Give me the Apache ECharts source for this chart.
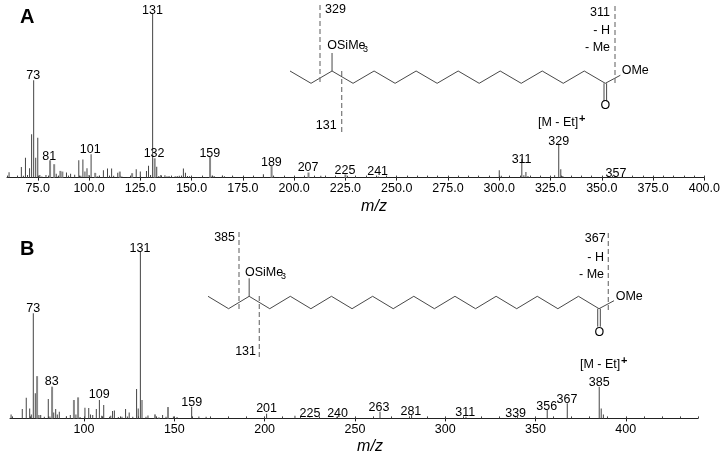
<!DOCTYPE html>
<html>
<head>
    <meta charset="utf-8">
    <title>Mass spectra A and B</title>
    <script src="https://cdn.jsdelivr.net/npm/echarts@6/dist/echarts.min.js"></script>
    <style>html,body{margin:0;padding:0;background:#fff}</style>
</head>
<body>
    <div id="main" style="width:723px;height:458px;"></div>
    <script type="text/javascript">
    // panel A, [m/z, relative intensity]
    var peaksA = [[61,3.3],[67,6.5],[68,1.2],[69,12.2],[70,1.6],[71,5.7],[72,26.5],[73,59.6],[74,12.2],[75,24.3],[76,1.6],[77,0.6],[79,1.6],
        [84,2.4],[85,0.8],[89,3.1],[91,2.4],[93,1.8],[95,10.6],[96,1.2],[97,11],[98,3.7],[99,5.7],[100,1.6],[101,14.3],[104,0.8],[105,1.2],
        [107,4.5],[109,5.5],[110,1],[111,5.5],[112,1.2],[114,2.9],[116,0.6],[119,0.4],[123,5.1],[125,3.7],[128,4.1],[129,7.3],[130,1.6],
        [131,100],[133,6.7],[134,1],[135,1.6],[137,1.4],[138,0.8],[139,1],[141,0.4],[142,0.8],[143,1],[144,1.2],[146,5.5],[147,2.9],[148,1],
        [149,0.8],[150,0.4],[153,0.4],[155,0.4],[157,0.4],[160,1.2],[161,1],[165,1.2],[166,0.8],[170,0.8],[185,2],[190,0.6],[193,0.4],[195,0.4],
        [213,1.2],[226,1.2],[241,0.6],[300,4.5],[301,1.2],[311,11.6],[312,1.4],[313,3.5],[314,1],[327,1.4],[329,20.8],[330,5.1],[331,1],[357,0.6]];
    var widePeaksA = [[81,10.6],[83,8.2],[86,4.1],[87,3.7],[103,2.9],[115,3.7],[121,2.7],[132,11.8],[159,12.7],[189,7.1],[207,3.1],[225,2]];
    var labelsA = [[72.8,62.5,'73'],[130.9,102.4,'131'],[80.6,13.1,'81'],[100.6,17.2,'101'],[131.7,14.6,'132'],[158.9,14.6,'159'],[188.9,9.3,'189'],
        [206.8,6,'207'],[224.8,4.4,'225'],[240.7,3.4,'241'],[310.9,11.3,'311'],[329,22.3,'329'],[356.9,2.6,'357']];
    var ticksA = [75,100,125,150,175,200,225,250,275,300,325,350,375,400];
    var minorTicksA = [60,65,70,75,80,85,90,95,100,105,110,115,120,125,130,135,140,145,150,155,160,165,170,175,180,185,190,195,200,205,210,215,220,225,
        230,235,240,245,250,255,260,265,270,275,280,285,290,295,300,305,310,315,320,325,330,335,340,345,350,355,360,365,370,375,380,385,390,395,400];

    // panel B, same layout
    var peaksB = [[59.6,2.4],[65.8,5.6],[68,12.4],[69.9,6],[70.8,2.4],[71.9,63],[73,15],[75,2],[76,2],[78,1],[80.2,11.6],[81.1,1.2],[83.2,3.6],[84.3,5.6],
        [85.2,2.4],[86.3,4],[90.2,1.2],[92.4,2],[95.5,2.4],[97.8,0.8],[100.5,6.4],[102.6,6.2],[103.6,2.4],[104.8,2],[106.8,5.6],[108.5,11],[109.8,1.6],
        [110.9,8],[114.1,1],[114.8,1.6],[115.8,4.4],[116.8,4.8],[119,0.8],[121,1],[123,5.6],[124,1.2],[125,3.6],[127,1],[129.1,17.6],[130,6],[131.2,100],
        [132.1,11],[134.3,1],[135.4,1.8],[143.5,2],[145.4,1],[149.5,1.2],[151.5,0.8],[159.6,7],[163.6,1.2],[167.6,1],[201.1,2.8],[216.8,1.6],[225,0.6],
        [240,1],[263.9,4],[281.4,2.4],[311.5,1],[339,0.6],[356.5,5],[367.6,9],[385.3,19],[386.4,6],[387.6,2.4]];
    var widePeaksB = [[74,25.3],[82.3,19],[94.4,11],[96.7,12.6],[139.3,2.4],[141.4,0.6],[146.5,6.8]];
    var labelsB = [[71.9,65.9,'73'],[131,101.8,'131'],[82.1,21.9,'83'],[108.4,14,'109'],[159.6,9.2,'159'],[201.1,5.6,'201'],[225.1,3,'225'],[240.4,3,'240'],
        [263.3,6.2,'263'],[281,4,'281'],[311.1,3.4,'311'],[339,3,'339'],[356.2,6.8,'356'],[367.4,11,'367'],[385.3,21.6,'385']];
    var ticksB = [100,150,200,250,300,350,400];
    var minorTicksB = [60,70,80,90,100,110,120,130,140,150,160,170,180,190,200,210,220,230,240,250,260,270,280,290,300,310,320,330,340,350,360,370,380,390,400,410,420,430,440];

    var font = '"Liberation Sans", Arial, sans-serif';
    var ink = '#000';
    var textSize = 12.5;
    var graphics = [];

    function addText(x, y, text, opts) {
        opts = opts || {};
        graphics.push({
            type: 'text', x: x, y: y, silent: true,
            style: {
                text: text, fill: ink, font: (opts.weight || '') + ' ' + (opts.size || textSize) + 'px ' + font,
                textAlign: opts.align || 'left', textVerticalAlign: 'middle'
            }
        });
    }
    function addLine(pts, dashed) {
        graphics.push({
            type: 'polyline', silent: true, shape: { points: pts },
            style: dashed ? { stroke: '#777', lineWidth: 1.2, lineDash: [5, 3], fill: null } : { stroke: '#333', lineWidth: 0.9, fill: null }
        });
    }

    // zigzag carbon chain with the ester head and the OSiMe3 stub
    function addMolecule(m) {
        var pts = [];
        for (var i = 0; i <= m.bonds; i++) {
            pts.push([m.x + i * m.pitch, i % 2 ? m.low : m.high]);
        }
        var end = pts[pts.length - 1];
        addLine(pts);
        addLine([end, [end[0] + 15, end[1] - 8]]);
        addLine([[end[0] - 1.3, end[1]], [end[0] - 1.3, end[1] + 18]]);
        addLine([[end[0] + 1.3, end[1]], [end[0] + 1.3, end[1] + 18]]);
        addLine([pts[2], [pts[2][0], pts[2][1] - 18]]);
    }

    addText(20, 17, 'A', { size: 20, weight: 'bold' });
    addText(20, 249, 'B', { size: 20, weight: 'bold' });
    addText(374, 207, 'm/z', { size: 16, weight: 'italic', align: 'center' });
    addText(370, 447, 'm/z', { size: 16, weight: 'italic', align: 'center' });

    addMolecule({ x: 290, pitch: 21.02, high: 71, low: 83.3, bonds: 15 });
    addLine([[320, 5], [320, 85]], true);
    addLine([[341.7, 71], [341.7, 132]], true);
    addLine([[615, 6], [615, 85]], true);
    addText(325, 10, '329');
    addText(610, 13, '311', { align: 'right' });
    addText(610, 31, '- H', { align: 'right' });
    addText(610, 48, '- Me', { align: 'right' });
    addText(327.3, 46, 'OSiMe');
    addText(363, 50, '3', { size: 9 });
    addText(621.7, 71, 'OMe');
    addText(605.3, 106, 'O', { align: 'center' });
    addText(336.7, 126, '131', { align: 'right' });
    addText(538, 123, '[M - Et]');
    addText(579, 119, '+', { size: 11, weight: 'bold' });

    addMolecule({ x: 208, pitch: 20.58, high: 296.3, low: 308.7, bonds: 19 });
    addLine([[239, 232], [239, 311]], true);
    addLine([[259.3, 296], [259.3, 358]], true);
    addLine([[608.3, 233], [608.3, 311]], true);
    addText(235, 237.7, '385', { align: 'right' });
    addText(605.7, 238.3, '367', { align: 'right' });
    addText(604, 257.7, '- H', { align: 'right' });
    addText(604, 274.3, '- Me', { align: 'right' });
    addText(245, 273, 'OSiMe');
    addText(281, 277, '3', { size: 9 });
    addText(615.7, 296.3, 'OMe');
    addText(599.3, 332.3, 'O', { align: 'center' });
    addText(256, 351.7, '131', { align: 'right' });
    addText(580, 365, '[M - Et]');
    addText(621, 361, '+', { size: 11, weight: 'bold' });

    function axisPair(gridIndex, min, max, ticks, minor, labelFmt, margin) {
        return [{
            type: 'value', gridIndex: gridIndex, min: min, max: max, splitLine: { show: false },
            axisLine: { onZero: false, lineStyle: { color: '#222', width: 1 } },
            axisTick: { customValues: ticks, length: 3, lineStyle: { color: '#222' } },
            axisLabel: { customValues: ticks, formatter: labelFmt, margin: margin, color: ink, fontFamily: font, fontSize: textSize, hideOverlap: false }
        }, {
            type: 'value', gridIndex: gridIndex, min: min, max: max, splitLine: { show: false },
            axisLine: { show: false },
            axisTick: { customValues: minor, length: 2, lineStyle: { color: '#444' } },
            axisLabel: { show: false }
        }];
    }
    function spectrum(xIndex, yIndex, peaks, wide, labels) {
        return [{
            type: 'bar', xAxisIndex: xIndex, yAxisIndex: yIndex, data: peaks, barWidth: 1, silent: true,
            itemStyle: { color: '#444' }
        }, {
            type: 'bar', xAxisIndex: xIndex + 1, yAxisIndex: yIndex, data: wide, barWidth: 2, silent: true,
            itemStyle: { color: '#888' }
        }, {
            type: 'scatter', xAxisIndex: xIndex, yAxisIndex: yIndex, data: labels, symbolSize: 1, silent: true,
            itemStyle: { color: 'transparent' },
            label: {
                show: true, position: 'inside', color: ink, textBorderWidth: 0, textBorderColor: 'transparent', opacity: 1,
                fontFamily: font, fontSize: textSize,
                formatter: function (p) { return p.value[2]; }
            }
        }];
    }

    var myChart = echarts.init(document.getElementById('main'));
    myChart.setOption({
        animation: false,
        backgroundColor: '#fff',
        grid: [
            { left: 7, top: 1, width: 698, height: 176.6 },
            { left: 10, top: 238, width: 688, height: 180.4 }
        ],
        xAxis: axisPair(0, 60, 400, ticksA, minorTicksA, function (v) { return v.toFixed(1); }, 4)
            .concat(axisPair(1, 59, 440, ticksB, minorTicksB, function (v) { return v; }, 5)),
        yAxis: [
            { type: 'value', gridIndex: 0, min: 0, max: 108, show: false },
            { type: 'value', gridIndex: 1, min: 0, max: 108, show: false }
        ],
        series: spectrum(0, 0, peaksA, widePeaksA, labelsA).concat(spectrum(2, 1, peaksB, widePeaksB, labelsB)),
        graphic: graphics
    });
    </script>
</body>
</html>
